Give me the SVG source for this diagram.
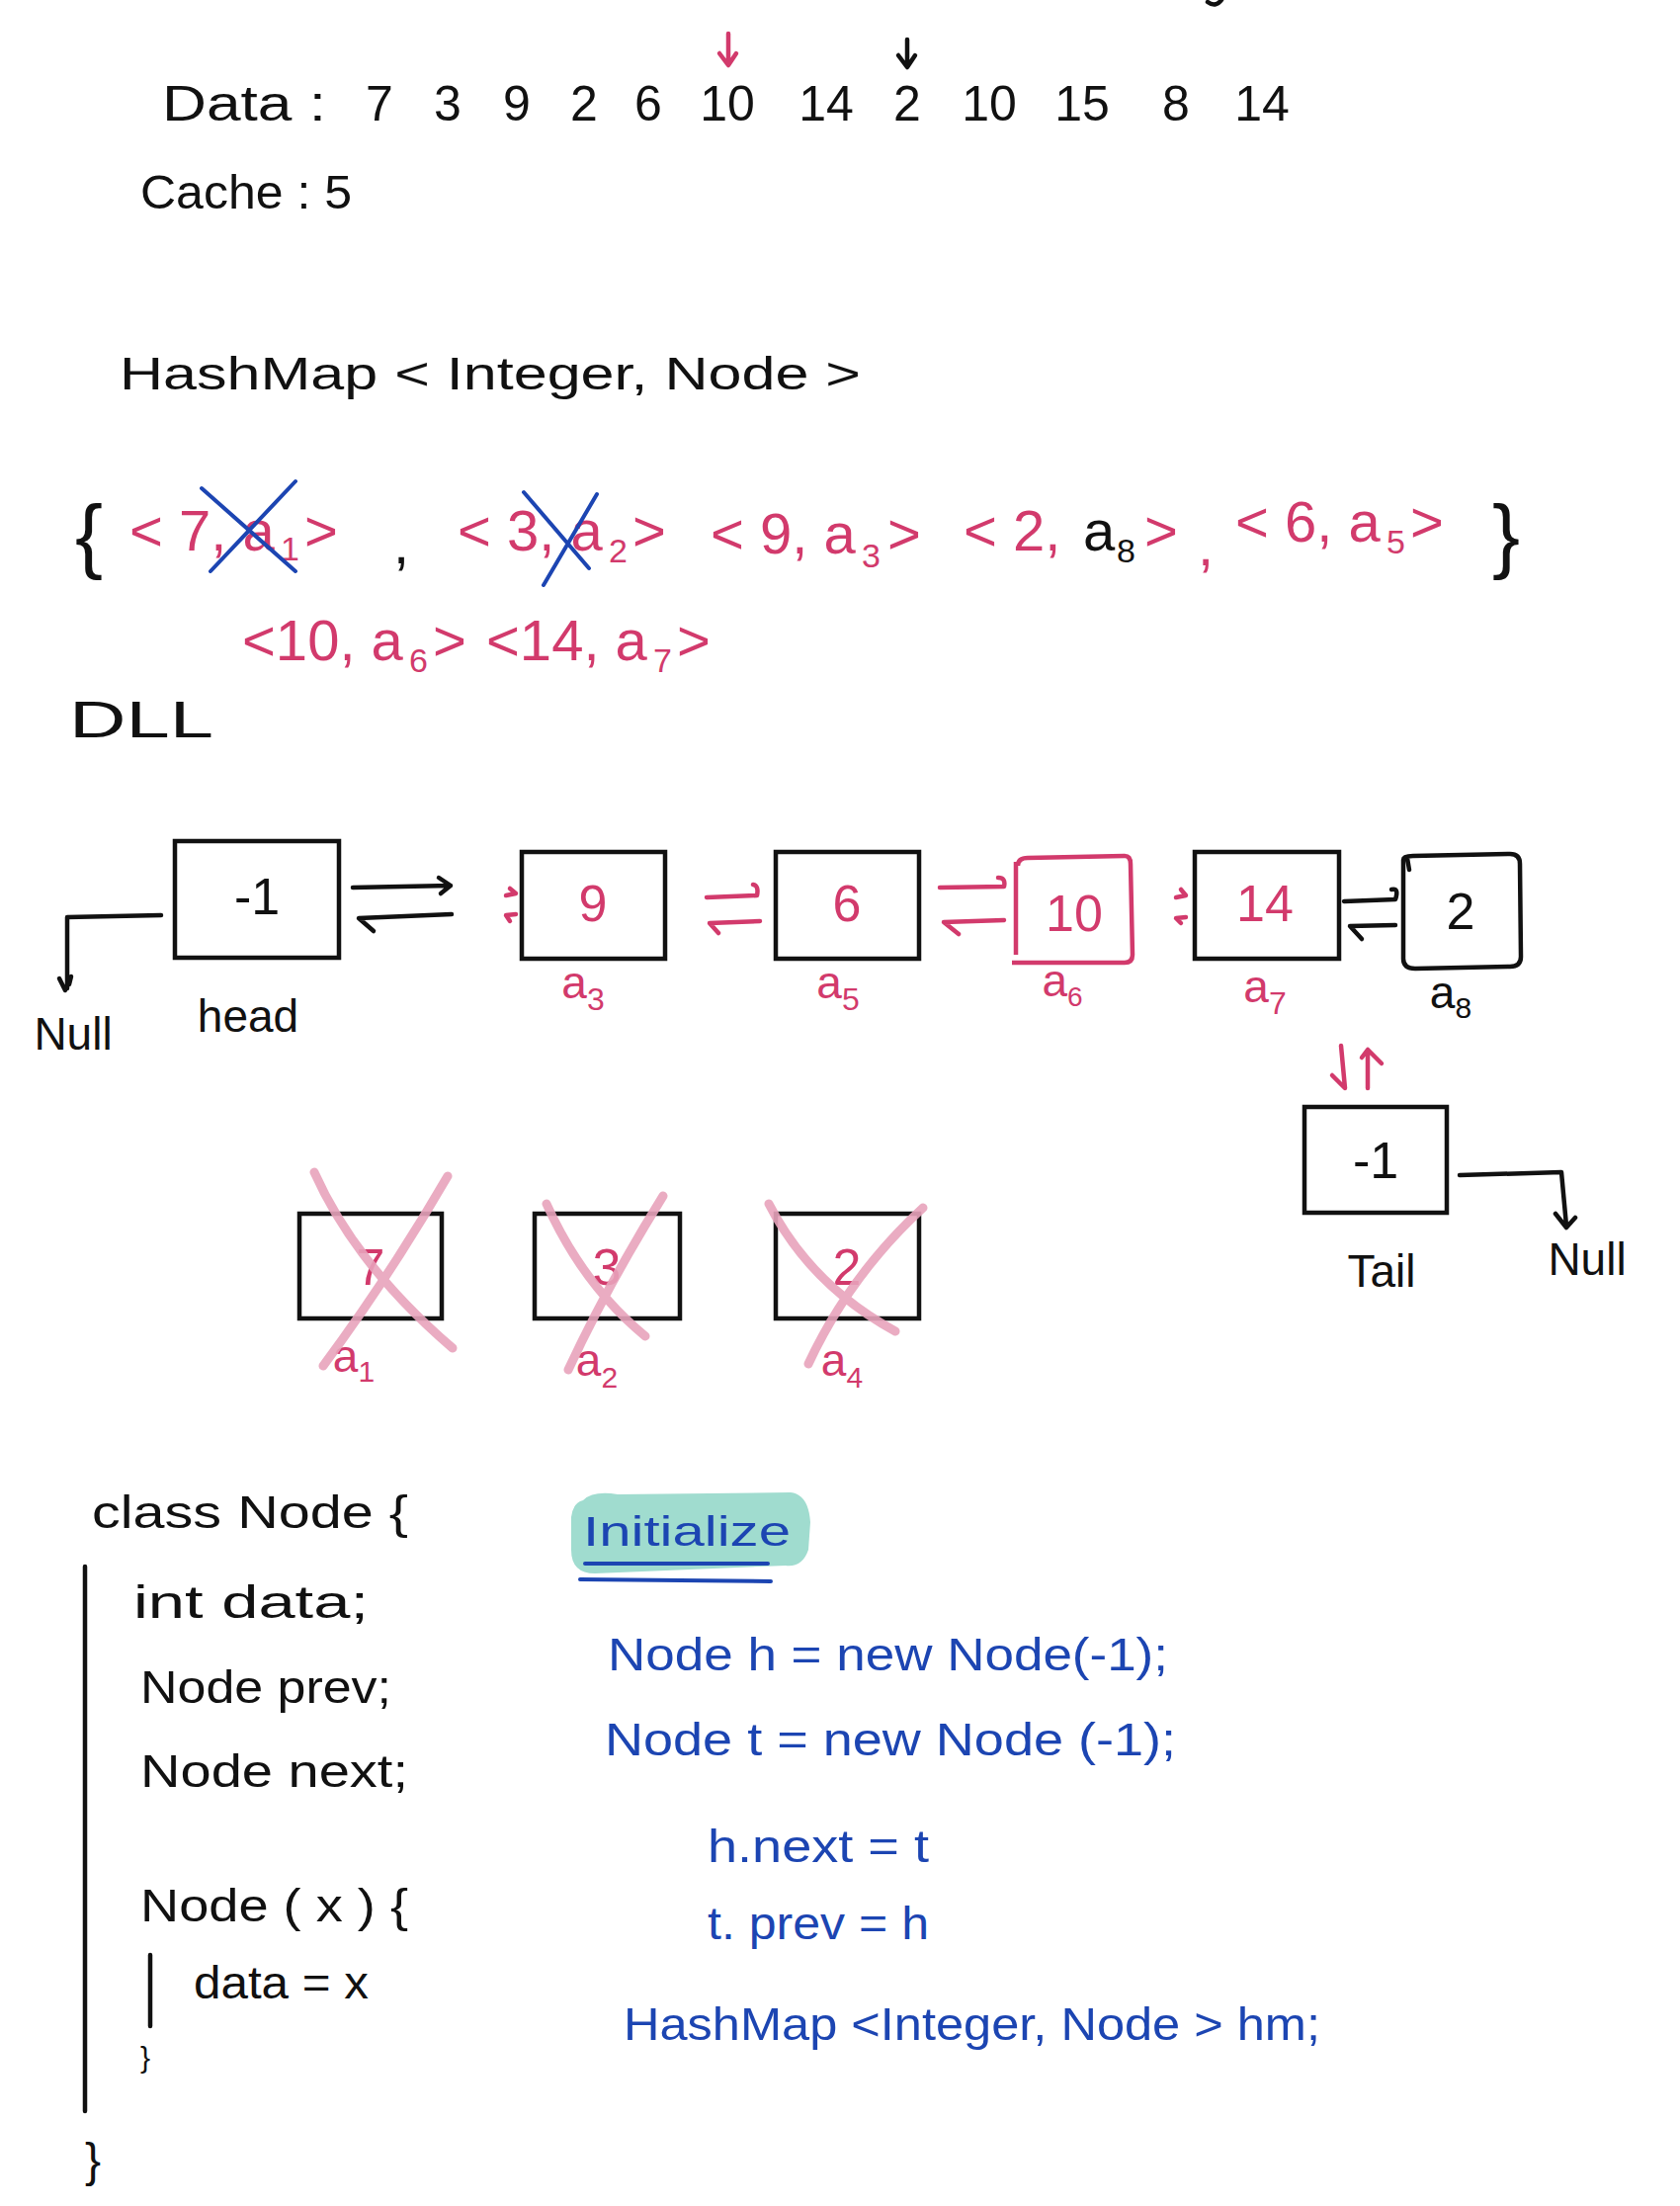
<svg xmlns="http://www.w3.org/2000/svg" width="1700" height="2232" viewBox="0 0 1700 2232">
<style>
text{font-family:"Liberation Sans","DejaVu Sans",sans-serif;}
.k{fill:#111;}
.r{fill:#d23a6c;}
.b{fill:#1c45b2;}
.box{fill:none;stroke:#111;stroke-width:4.5;}
.rbox{fill:none;stroke:#d23a6c;stroke-width:4.5;stroke-linejoin:round;}
.lk{fill:none;stroke:#111;stroke-width:4.5;stroke-linecap:round;stroke-linejoin:round;}
.lr{fill:none;stroke:#d23a6c;stroke-width:4.5;stroke-linecap:round;stroke-linejoin:round;}
.lb{fill:none;stroke:#1c45b2;stroke-width:4;stroke-linecap:round;}
.lp{fill:none;stroke:#e8a3bb;stroke-width:9;stroke-linecap:round;opacity:0.9;}
.num{font-size:50px;text-anchor:middle;}
.map{font-size:58px;}
.sub{font-size:34px;}
.nv{font-size:52px;text-anchor:middle;}
.lab{font-size:46px;text-anchor:middle;}
.code{font-size:46px;}
</style>

<!-- top: data and cache -->
<g id="data">
<path class="lk" d="M1222 2 Q1230 8 1236 0"/>
<path class="lr" d="M737 34 L737 64 M728 54 L737 66 L745 54"/>
<path class="lk" d="M918 40 L918 66 M909 56 L918 68 L926 56"/>
<text class="k" x="164" y="122" font-size="50" textLength="166" lengthAdjust="spacingAndGlyphs">Data :</text>
<text class="k num" x="384" y="122">7</text>
<text class="k num" x="453" y="122">3</text>
<text class="k num" x="523" y="122">9</text>
<text class="k num" x="591" y="122">2</text>
<text class="k num" x="656" y="122">6</text>
<text class="k num" x="736" y="122">10</text>
<text class="k num" x="836" y="122">14</text>
<text class="k num" x="918" y="122">2</text>
<text class="k num" x="1001" y="122">10</text>
<text class="k num" x="1095" y="122">15</text>
<text class="k num" x="1190" y="122">8</text>
<text class="k num" x="1277" y="122">14</text>
</g>
<g id="cache">
<text class="k" x="142" y="211" font-size="48" textLength="214" lengthAdjust="spacingAndGlyphs">Cache : 5</text>
</g>

<!-- hashmap declaration -->
<g id="hashmap-title">
<text class="k" x="121" y="394" font-size="46" textLength="750" lengthAdjust="spacingAndGlyphs">HashMap &lt; Integer, Node &gt;</text>
</g>

<!-- map contents -->
<g id="map-contents">
<text class="k" x="76" y="570" font-size="84">{</text>
<text class="r map" x="131" y="557">&lt; 7, a</text><text class="r sub" x="284" y="567">1</text><text class="r map" x="308" y="557">&gt;</text>
<text class="k map" x="398" y="570">,</text>
<text class="r map" x="463" y="557">&lt; 3, a</text><text class="r sub" x="616" y="569">2</text><text class="r map" x="640" y="557">&gt;</text>
<text class="r map" x="719" y="560">&lt; 9, a</text><text class="r sub" x="872" y="574">3</text><text class="r map" x="898" y="560">&gt;</text>
<text class="r map" x="975" y="557">&lt; 2, </text><text class="k map" x="1096" y="557">a</text><text class="k sub" x="1130" y="569">8</text><text class="r map" x="1158" y="557">&gt;</text>
<text class="r map" x="1212" y="572">,</text>
<text class="r map" x="1250" y="548">&lt; 6, a</text><text class="r sub" x="1403" y="560">5</text><text class="r map" x="1427" y="548">&gt;</text>
<text class="k" x="1510" y="570" font-size="84">}</text>
<text class="r map" x="245" y="668">&lt;10, a</text><text class="r sub" x="414" y="680">6</text><text class="r map" x="438" y="668">&gt;</text>
<text class="r map" x="492" y="668">&lt;14, a</text><text class="r sub" x="661" y="680">7</text><text class="r map" x="685" y="668">&gt;</text>
<path class="lb" d="M204 494 L299 578 M299 487 L213 578"/>
<path class="lb" d="M530 498 L596 575 M604 500 L550 592"/>
</g>

<g id="dll-title">
<text class="k" x="70" y="746" font-size="52" textLength="146" lengthAdjust="spacingAndGlyphs">DLL</text>
</g>

<!-- DLL nodes -->
<g id="node-head">
<rect class="box" x="177" y="851" width="166" height="118"/>
<text class="k nv" x="260" y="925">-1</text>
<text class="k lab" x="251" y="1044">head</text>
</g>
<g id="null-left">
<text class="k lab" x="74" y="1062">Null</text>
</g>
<g id="node-a3">
<rect class="box" x="528" y="862" width="145" height="108"/>
<text class="r nv" x="600" y="932">9</text>
<text class="r lab" x="590" y="1010">a<tspan font-size="32" dy="12">3</tspan></text>
</g>
<g id="node-a5">
<rect class="box" x="785" y="862" width="145" height="108"/>
<text class="r nv" x="857" y="932">6</text>
<text class="r lab" x="848" y="1010">a<tspan font-size="32" dy="12">5</tspan></text>
</g>
<g id="node-a6">
<path class="rbox" d="M1030 876 Q1030 868 1040 868 L1138 866 Q1144 866 1144 874 L1146 966 Q1146 974 1138 974 L1024 974 M1028 872 L1028 966"/>
<text class="r nv" x="1087" y="942">10</text>
<text class="r lab" x="1075" y="1008" font-size="40">a<tspan font-size="28" dy="10">6</tspan></text>
</g>
<g id="node-a7">
<rect class="box" x="1209" y="862" width="146" height="108"/>
<text class="r nv" x="1280" y="932">14</text>
<text class="r lab" x="1280" y="1014">a<tspan font-size="32" dy="12">7</tspan></text>
</g>
<g id="node-a8">
<path class="lk" d="M1420 870 Q1420 866 1430 866 L1528 864 Q1538 864 1538 874 L1539 968 Q1539 978 1528 978 L1432 980 Q1420 980 1420 970 Z M1424 868 L1426 880"/>
<text class="k nv" x="1478" y="940">2</text>
<text class="k lab" x="1468" y="1020">a<tspan font-size="30" dy="10">8</tspan></text>
</g>
<g id="node-tail">
<rect class="box" x="1320" y="1120" width="144" height="107"/>
<text class="k nv" x="1392" y="1192">-1</text>
<text class="k lab" x="1398" y="1302">Tail</text>
</g>
<g id="null-right">
<text class="k lab" x="1606" y="1290">Null</text>
</g>

<!-- removed nodes -->
<g id="node-a1">
<rect class="box" x="303" y="1228" width="144" height="106"/>
<text class="r nv" x="375" y="1300">7</text>
<text class="r lab" x="358" y="1388">a<tspan font-size="30" dy="10">1</tspan></text>
<path class="lp" d="M318 1186 Q360 1280 458 1364 M453 1190 Q395 1290 327 1382"/>
</g>
<g id="node-a2">
<rect class="box" x="541" y="1228" width="147" height="106"/>
<text class="r nv" x="614" y="1300">3</text>
<text class="r lab" x="604" y="1392">a<tspan font-size="30" dy="12">2</tspan></text>
<path class="lp" d="M553 1218 Q590 1300 653 1352 M671 1210 Q615 1300 575 1386"/>
</g>
<g id="node-a4">
<rect class="box" x="785" y="1228" width="145" height="106"/>
<text class="r nv" x="857" y="1300">2</text>
<text class="r lab" x="852" y="1392">a<tspan font-size="30" dy="12">4</tspan></text>
<path class="lp" d="M778 1218 Q820 1300 906 1347 M934 1222 Q860 1290 818 1380"/>
</g>

<!-- connectors -->
<g id="connectors">
<path class="lk" d="M163 926 L68 928 L68 1000 M60 990 L66 1002 M72 988 L70 996"/>
<path class="lk" d="M357 898 L456 896 M444 888 L456 896 L446 904"/>
<path class="lk" d="M457 925 L363 929 L378 942"/>
<path class="lr" d="M512 906 L522 904 L516 899 M522 925 L512 926 L516 932"/>
<path class="lr" d="M715 908 L766 906 Q768 896 762 895 M769 932 L718 934 L727 944"/>
<path class="lr" d="M951 898 L1016 897 Q1018 888 1010 888 M1016 931 L955 933 L970 945"/>
<path class="lr" d="M1190 908 L1200 906 L1195 900 M1200 928 L1190 929 L1195 934"/>
<path class="lk" d="M1360 912 L1412 910 Q1416 898 1408 900 M1412 936 L1366 937 L1378 950"/>
<path class="lr" d="M1357 1058 L1361 1101 L1348 1088 M1384 1101 L1384 1062 L1378 1070 M1384 1062 L1398 1076"/>
<path class="lk" d="M1477 1189 L1580 1186 L1585 1240 M1574 1228 L1585 1242 L1594 1232"/>
</g>

<!-- class Node -->
<g id="class-node">
<text class="k code" x="93" y="1546" textLength="320" lengthAdjust="spacingAndGlyphs">class  Node {</text>
<path class="lk" d="M86 1585 L86 2136"/>
<text class="k code" x="135" y="1637" textLength="238" lengthAdjust="spacingAndGlyphs">int  data;</text>
<text class="k code" x="142" y="1723" textLength="254" lengthAdjust="spacingAndGlyphs">Node  prev;</text>
<text class="k code" x="142" y="1808" textLength="271" lengthAdjust="spacingAndGlyphs">Node  next;</text>
<text class="k code" x="142" y="1944" textLength="271" lengthAdjust="spacingAndGlyphs">Node ( x ) {</text>
<path class="lk" d="M152 1978 L152 2050"/>
<text class="k code" x="196" y="2022" textLength="177" lengthAdjust="spacingAndGlyphs">data = x</text>
<text class="k" x="142" y="2092" font-size="30">}</text>
<text class="k" x="86" y="2202" font-size="48">}</text>
</g>

<!-- Initialize -->
<g id="initialize">
<path d="M590 1518 Q600 1508 625 1512 L800 1510 Q818 1512 820 1540 L818 1568 Q812 1586 795 1584 L602 1592 Q578 1592 578 1568 L578 1535 Q580 1520 590 1518 Z" fill="#a0dccf"/>
<text class="b" x="590" y="1564" font-size="42" textLength="210" lengthAdjust="spacingAndGlyphs">Initialize</text>
<path class="lb" d="M592 1582 L777 1582 M587 1598 L780 1600"/>
<text class="b code" x="615" y="1690" textLength="567" lengthAdjust="spacingAndGlyphs">Node  h = new  Node(-1);</text>
<text class="b code" x="612" y="1776" textLength="578" lengthAdjust="spacingAndGlyphs">Node   t = new  Node (-1);</text>
<text class="b code" x="716" y="1884" textLength="224" lengthAdjust="spacingAndGlyphs">h.next = t</text>
<text class="b code" x="716" y="1962" textLength="224" lengthAdjust="spacingAndGlyphs">t. prev = h</text>
<text class="b code" x="631" y="2064" textLength="705" lengthAdjust="spacingAndGlyphs">HashMap &lt;Integer, Node &gt; hm;</text>
</g>
</svg>
